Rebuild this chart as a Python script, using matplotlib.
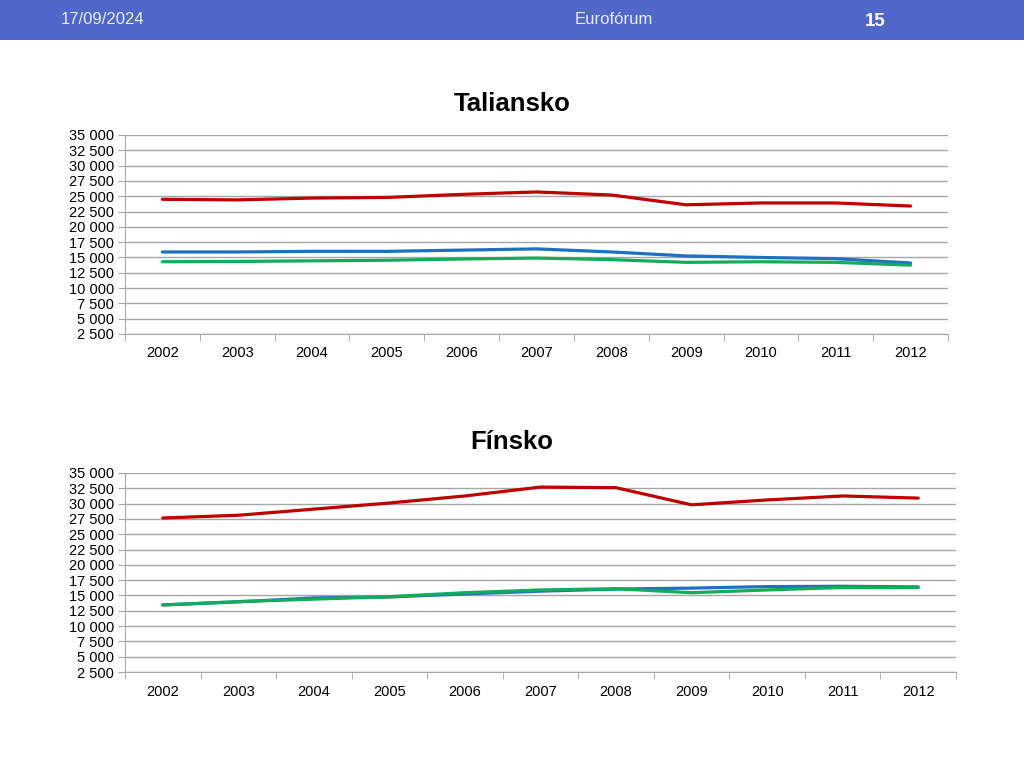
import matplotlib.pyplot as plt
from matplotlib.ticker import FuncFormatter, FixedLocator
from matplotlib.patches import Rectangle

plt.rcParams['font.family'] = ['Liberation Sans', 'DejaVu Sans']

# Data
years = ['2002', '2003', '2004', '2005', '2006', '2007', '2008', '2009', '2010', '2011', '2012']

italy_red = [24500, 24400, 24700, 24800, 25300, 25700, 25200, 23600, 23900, 23900, 23400]
italy_blue = [15900, 15900, 16000, 16000, 16200, 16400, 15900, 15250, 15000, 14800, 14100]
italy_green = [14300, 14350, 14450, 14550, 14750, 14900, 14650, 14200, 14300, 14200, 13750]

finland_red = [27650, 28100, 29100, 30100, 31250, 32700, 32600, 29800, 30600, 31250, 30900]
finland_blue = [13450, 13950, 14600, 14750, 15250, 15700, 16050, 16200, 16450, 16500, 16400]
finland_green = [13450, 14000, 14400, 14800, 15450, 15900, 16100, 15450, 15900, 16300, 16300]

y_ticks = list(range(2500, 35001, 2500))

red = '#C00000'
blue = '#1F70C1'
green = '#12AC5A'
grid_col = '#A6A6A6'

W, H = 1024, 768
fig = plt.figure(figsize=(W / 100, H / 100), dpi=100)

# header band
fig.patches.append(Rectangle((0, 1 - 40 / H), 1, 40 / H, transform=fig.transFigure,
                             facecolor='#4F67C8', edgecolor='none', zorder=0))
fig.text(103 / W, 1 - 20 / H, '17/09/2024', color='#E8ECF8', fontsize=12,
         ha='center', va='center')
fig.text(614 / W, 1 - 20 / H, 'Eurofórum', color='#E8ECF8', fontsize=12,
         ha='center', va='center')
fig.text(875 / W, 1 - 21 / H, '15', color='white', fontsize=13.5, fontweight='bold',
         ha='center', va='center')


def fmt(v, pos):
    return f'{int(v):,}'.replace(',', ' ')


def draw(rect, title, title_y, series):
    left, top, right, bottom = rect
    ax = fig.add_axes([left / W, 1 - bottom / H, (right - left) / W, (bottom - top) / H])
    x = list(range(len(years)))
    for vals, col in series:
        ax.plot(x, vals, color=col, lw=2.3, solid_capstyle='round', zorder=3)
    ax.set_xlim(-0.5, len(years) - 0.5)
    ax.set_ylim(2500, 35000)
    ax.set_yticks(y_ticks)
    ax.yaxis.set_major_formatter(FuncFormatter(fmt))
    ax.set_xticks(x)
    ax.set_xticklabels(years)
    ax.xaxis.set_minor_locator(FixedLocator([i - 0.5 for i in range(len(years) + 1)]))
    ax.tick_params(axis='x', which='major', length=0, pad=9, labelsize=10.5)
    ax.tick_params(axis='x', which='minor', length=5, color=grid_col)
    ax.tick_params(axis='y', length=5, color=grid_col, labelsize=10.5, pad=3)
    ax.grid(axis='y', color=grid_col, lw=1)
    ax.set_axisbelow(True)
    for s in ['top', 'right']:
        ax.spines[s].set_visible(False)
    for s in ['left', 'bottom']:
        ax.spines[s].set_color(grid_col)
    fig.text(512 / W, 1 - title_y / H, title, fontsize=18.5, fontweight='bold',
             ha='center', va='center')
    return ax


draw((125, 135, 948, 334), 'Taliansko', 104,
     [(italy_red, red), (italy_blue, blue), (italy_green, green)])
draw((125, 473, 956, 672), 'Fínsko', 442,
     [(finland_red, red), (finland_blue, blue), (finland_green, green)])

fig.savefig('out.png', dpi=100)
